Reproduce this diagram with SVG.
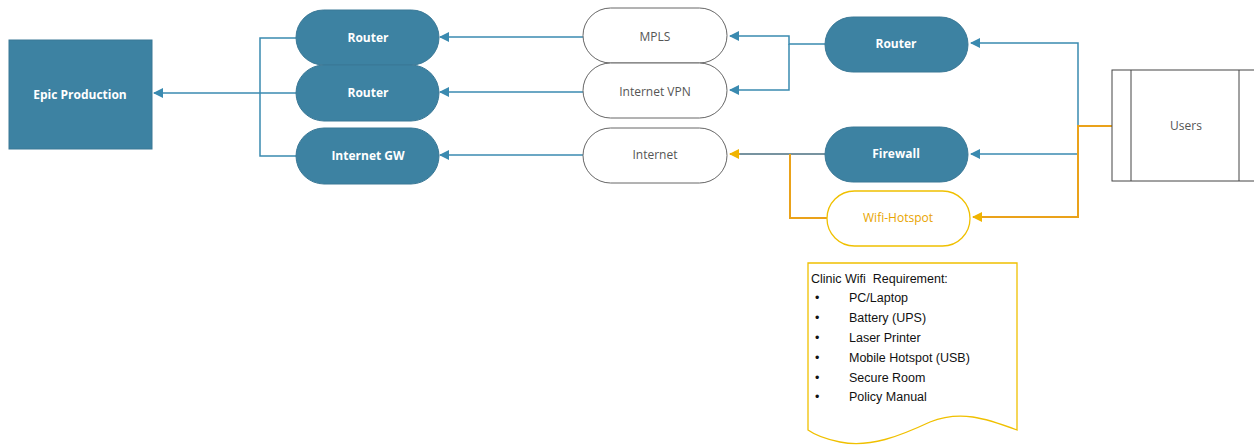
<svg xmlns="http://www.w3.org/2000/svg" width="1254" height="447" viewBox="0 0 1254 447">
<style>
.dk{fill:#3d82a2;stroke:#3a7896;stroke-width:1}
.wt{fill:#fff;stroke:#666;stroke-width:1}
.tw{font-family:"Open Sans","Liberation Sans",sans-serif;font-size:12px;font-weight:bold;fill:#fff;text-anchor:middle}
.tg{font-family:"Open Sans","Liberation Sans",sans-serif;font-size:12px;fill:#555;text-anchor:middle}
.c{fill:none;stroke:#3a8ab0;stroke-width:1.5}
.o{fill:none;stroke:#eaa21a;stroke-width:2}
.n{font-family:"Liberation Sans","Open Sans",sans-serif;font-size:12.5px;fill:#111}
</style>
<defs>
<marker id="ab" viewBox="0 0 10 10" refX="9" refY="5" markerWidth="10" markerHeight="10" markerUnits="userSpaceOnUse" orient="auto"><path d="M0,0 L10,5 L0,10 z" fill="#3a8ab0"/></marker>
<marker id="ay" viewBox="0 0 10 10" refX="9" refY="5" markerWidth="10" markerHeight="10" markerUnits="userSpaceOnUse" orient="auto"><path d="M0,0 L10,5 L0,10 z" fill="#f0b400"/></marker>
</defs>
<g id="connectors">
<path class="c" d="M296,38 H260 V156 H296"/>
<path class="c" d="M296,93 H154" marker-end="url(#ab)"/>
<path class="c" d="M583,37 H440" marker-end="url(#ab)"/>
<path class="c" d="M583,92 H440" marker-end="url(#ab)"/>
<path class="c" d="M583,155 H440" marker-end="url(#ab)"/>
<path class="c" d="M825,44 H789 V36 H730" marker-end="url(#ab)"/>
<path class="c" d="M789,44 V90 H730" marker-end="url(#ab)"/>
<path class="c" d="M825,154 H738" style="stroke:#4a6f80"/>
<path class="o" d="M740,154 H730" marker-end="url(#ay)"/>
<path class="o" d="M790,154 V218 H827"/>
<path class="c" d="M1078,126 V43 H971" marker-end="url(#ab)"/>
<path class="c" d="M1078,154 H971" marker-end="url(#ab)"/>
<path class="o" d="M1112,126 H1078 V217 H973" marker-end="url(#ay)"/>
</g>
<g id="epic"><rect class="dk" x="9" y="40" width="143" height="109"/><text class="tw" x="80" y="99">Epic Production</text></g>
<g id="router1"><rect class="dk" x="296" y="10" width="143" height="55" rx="27.5"/><text class="tw" x="368" y="42">Router</text></g>
<g id="router2"><rect class="dk" x="296" y="65" width="143" height="56" rx="28"/><text class="tw" x="368" y="97">Router</text></g>
<g id="internetgw"><rect class="dk" x="296" y="128" width="143" height="56" rx="28"/><text class="tw" x="368" y="160">Internet GW</text></g>
<g id="mpls"><rect class="wt" x="583" y="8" width="144" height="55" rx="27.5"/><text class="tg" x="655" y="41">MPLS</text></g>
<g id="internetvpn"><rect class="wt" x="583" y="63" width="144" height="55" rx="27.5"/><text class="tg" x="655" y="96">Internet VPN</text></g>
<g id="internet"><rect class="wt" x="583" y="128" width="144" height="55" rx="27.5"/><text class="tg" x="655" y="159">Internet</text></g>
<g id="router3"><rect class="dk" x="825" y="17" width="143" height="55" rx="27.5"/><text class="tw" x="896" y="48">Router</text></g>
<g id="firewall"><rect class="dk" x="825" y="127" width="143" height="55" rx="27.5"/><text class="tw" x="896" y="158">Firewall</text></g>
<g id="wifihotspot"><rect x="827" y="191" width="143" height="55" rx="27.5" fill="#fff" stroke="#f0c000" stroke-width="1.3"/><text class="tg" x="898" y="222" style="fill:#e8a400">Wifi-Hotspot</text></g>
<g id="users"><rect x="1112" y="70" width="150" height="111" fill="#fff" stroke="#444" stroke-width="1"/><line x1="1131" y1="70" x2="1131" y2="181" stroke="#444"/><line x1="1239" y1="70" x2="1239" y2="181" stroke="#444"/><text class="tg" x="1186" y="130">Users</text></g>
<g id="note">
<path d="M808,263 H1017 V430 C985,418 960,410 930,422 C900,436 870,448 840,442 C825,439 815,435 808,430 Z" fill="#fff" stroke="#f0c000" stroke-width="1.3"/>
<text class="n" x="811" y="283">Clinic Wifi&#160; Requirement:</text>
<g class="n"><text x="815" y="302">•</text><text x="815" y="322">•</text><text x="815" y="342">•</text><text x="815" y="362">•</text><text x="815" y="382">•</text><text x="815" y="401">•</text></g>
<text class="n" x="849" y="302">PC/Laptop</text>
<text class="n" x="849" y="322">Battery (UPS)</text>
<text class="n" x="849" y="342">Laser Printer</text>
<text class="n" x="849" y="362">Mobile Hotspot (USB)</text>
<text class="n" x="849" y="382">Secure Room</text>
<text class="n" x="849" y="401">Policy Manual</text>
</g>
</svg>
